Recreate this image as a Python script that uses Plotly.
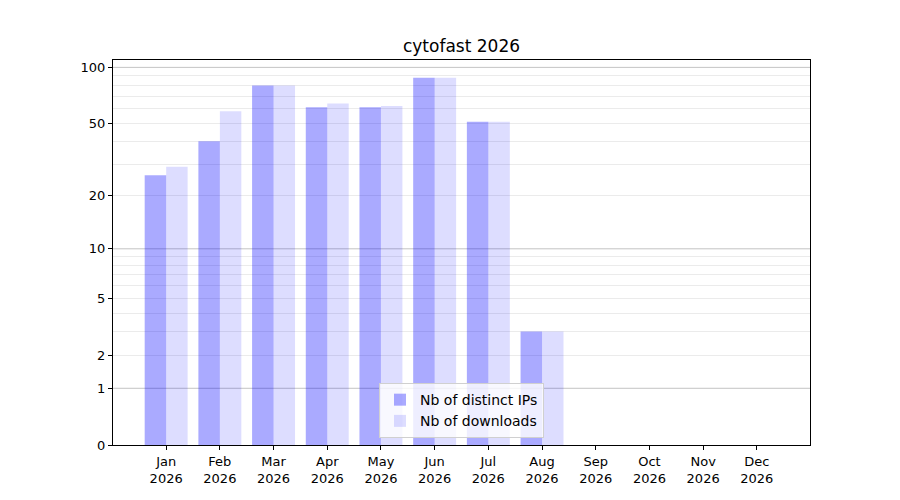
import numpy as np
import plotly.graph_objects as go

# Monthly stats
months = ["Jan", "Feb", "Mar", "Apr", "May", "Jun", "Jul", "Aug", "Sep", "Oct", "Nov", "Dec"]
year = "2026"
distinct_ips = [26, 40, 80, 61, 61, 88, 51, 3, 0, 0, 0, 0]
downloads = [29, 58, 80, 64, 62, 88, 51, 3, 0, 0, 0, 0]

# y axis uses a log(1 + x) scale
tick_values = [0, 1, 2, 5, 10, 20, 50, 100]
major_grid = [1, 10, 100]
minor_grid = [2, 3, 4, 5, 6, 7, 8, 9, 20, 30, 40, 50, 60, 70, 80, 90]


def scale(v):
    return np.log10(1 + np.asarray(v, dtype=float))


labels = [f"{m}<br>{year}" for m in months]

fig = go.Figure()
fig.add_trace(go.Bar(
    x=labels, y=scale(distinct_ips), name="Nb of distinct IPs",
    marker=dict(color="rgba(0,0,255,0.333)", line=dict(width=0)),
    customdata=distinct_ips, hovertemplate="%{customdata}<extra></extra>",
))
fig.add_trace(go.Bar(
    x=labels, y=scale(downloads), name="Nb of downloads",
    marker=dict(color="rgba(0,0,255,0.135)", line=dict(width=0)),
    customdata=downloads, hovertemplate="%{customdata}<extra></extra>",
))

# darker grid lines at decades
for v in major_grid:
    fig.add_shape(type="line", xref="paper", x0=0, x1=1, yref="y",
                  y0=float(scale(v)), y1=float(scale(v)),
                  line=dict(color="#c4c4c4", width=1), layer="below")

# page body adds an 8px offset, margins compensate for it
fig.update_layout(
    width=900, height=500,
    margin=dict(l=105, r=98, t=52, b=63),
    paper_bgcolor="white", plot_bgcolor="white",
    font=dict(family="DejaVu Sans", size=13, color="black"),
    title=dict(text="cytofast 2026", x=0.5, xref="paper", xanchor="center",
               y=1 - 38 / 500, yanchor="middle", font=dict(size=17)),
    barmode="group", bargap=0.2, bargroupgap=0,
    showlegend=True,
    legend=dict(x=0.5, y=0.018, xanchor="center", yanchor="bottom",
                bgcolor="rgba(255,255,255,0.8)", bordercolor="#d0d0d0", borderwidth=1,
                font=dict(size=14), itemwidth=30, tracegroupgap=0),
    xaxis=dict(range=[-0.99, 11.99], showline=True, linecolor="black", linewidth=1,
               mirror=True, ticks="outside", ticklen=4, tickcolor="black",
               showgrid=False, zeroline=False),
    yaxis=dict(range=[0, 2.0435], showline=True, linecolor="black", linewidth=1,
               mirror=True, ticks="outside", ticklen=4, tickcolor="black",
               tickmode="array", tickvals=scale(tick_values),
               ticktext=[str(t) for t in tick_values],
               showgrid=False, zeroline=False,
               minor=dict(tickmode="array", tickvals=scale(minor_grid), showgrid=True,
                          gridcolor="#ebebeb", gridwidth=1, ticklen=0)),
)

fig.write_html("out.html")
